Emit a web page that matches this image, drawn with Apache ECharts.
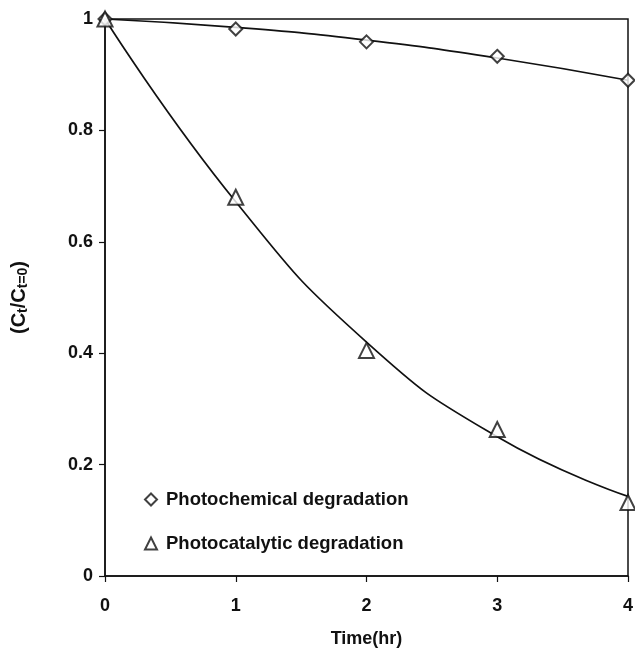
<!DOCTYPE html>
<html>
<head>
<meta charset="utf-8">
<script src="https://cdn.jsdelivr.net/npm/echarts@6/dist/echarts.min.js"></script>
<style>
  html, body { margin: 0; padding: 0; background: #fff; }
  #chart { width: 635px; height: 651px; }
</style>
</head>
<body>
<div id="chart"></div>
<script>
// time axis (hr)
var hours = [0, 1, 2, 3, 4];
// measured points
var photochemical = [1.0, 0.982, 0.959, 0.933, 0.89];
var photocatalytic = [1.0, 0.68, 0.405, 0.263, 0.132];
// trend curves at each hour
var photochemicalFit = [1.0, 0.985, 0.962, 0.93, 0.89];
var photocatalyticFit = [1.0, 0.672, 0.42, 0.25, 0.143];

function pairs(xs, ys) {
    return xs.map(function (x, i) { return [x, ys[i]]; });
}

var chart = echarts.init(document.getElementById('chart'));
var font = 'Liberation Sans, Arial, sans-serif';

chart.setOption({
    animation: false,
    backgroundColor: '#fff',
    grid: {
        left: 105, right: 7, top: 19, bottom: 75,
        outerBoundsMode: 'none',
        containLabel: false,
        show: true,
        borderColor: '#111',
        borderWidth: 1.5
    },
    legend: {
        orient: 'vertical',
        left: 139,
        top: 485,
        itemGap: 25,
        itemWidth: 12,
        itemHeight: 12,
        textStyle: { fontFamily: font, fontWeight: 'bold', fontSize: 18.5, color: '#111', padding: [0, 0, 0, 4] },
        data: [
            { name: 'Photochemical degradation', icon: 'emptyDiamond' },
            { name: 'Photocatalytic degradation', icon: 'emptyTriangle' }
        ]
    },
    xAxis: {
        type: 'value',
        min: 0, max: 4, interval: 1,
        name: 'Time(hr)',
        nameLocation: 'middle',
        nameGap: 54,
        nameTextStyle: { fontFamily: font, fontWeight: 'bold', fontSize: 18, color: '#111' },
        axisLine: { lineStyle: { color: '#111', width: 1.5 } },
        axisTick: { inside: false, length: 6, lineStyle: { color: '#111', width: 1.2 } },
        axisLabel: { margin: 21, fontFamily: font, fontWeight: 'bold', fontSize: 18, color: '#111' },
        splitLine: { show: false }
    },
    yAxis: {
        type: 'value',
        min: 0, max: 1, interval: 0.2,
        name: '(C{s|t}/C{s|t=0})',
        nameLocation: 'middle',
        nameGap: 75,
        nameRotate: 90,
        nameTextStyle: {
            fontFamily: font, fontWeight: 'bold', fontSize: 20, color: '#111',
            rich: {
                s: { fontFamily: font, fontWeight: 'bold', fontSize: 14, color: '#111', verticalAlign: 'bottom', padding: [7, 0, 0, 0] }
            }
        },
        axisLine: { lineStyle: { color: '#111', width: 1.5 } },
        axisTick: { inside: false, length: 6, lineStyle: { color: '#111', width: 1.2 } },
        axisLabel: { margin: 12, fontFamily: font, fontWeight: 'bold', fontSize: 18, color: '#111' },
        splitLine: { show: false }
    },
    series: [
        {
            name: 'fit1',
            type: 'line',
            smooth: true,
            showSymbol: false,
            data: pairs(hours, photochemicalFit),
            lineStyle: { color: '#111', width: 1.7 },
            z: 2
        },
        {
            name: 'fit2',
            type: 'line',
            smooth: true,
            showSymbol: false,
            data: pairs(hours, photocatalyticFit),
            lineStyle: { color: '#111', width: 1.7 },
            z: 2
        },
        {
            name: 'Photochemical degradation',
            type: 'scatter',
            symbol: 'emptyDiamond',
            symbolSize: 13,
            clip: false,
            itemStyle: { color: '#111', borderWidth: 1.7 },
            data: pairs(hours, photochemical),
            z: 3
        },
        {
            name: 'Photocatalytic degradation',
            type: 'scatter',
            symbol: 'emptyTriangle',
            symbolSize: 15,
            clip: false,
            itemStyle: { color: '#111', borderWidth: 1.7 },
            data: pairs(hours, photocatalytic),
            z: 3
        }
    ]
});
</script>
</body>
</html>
